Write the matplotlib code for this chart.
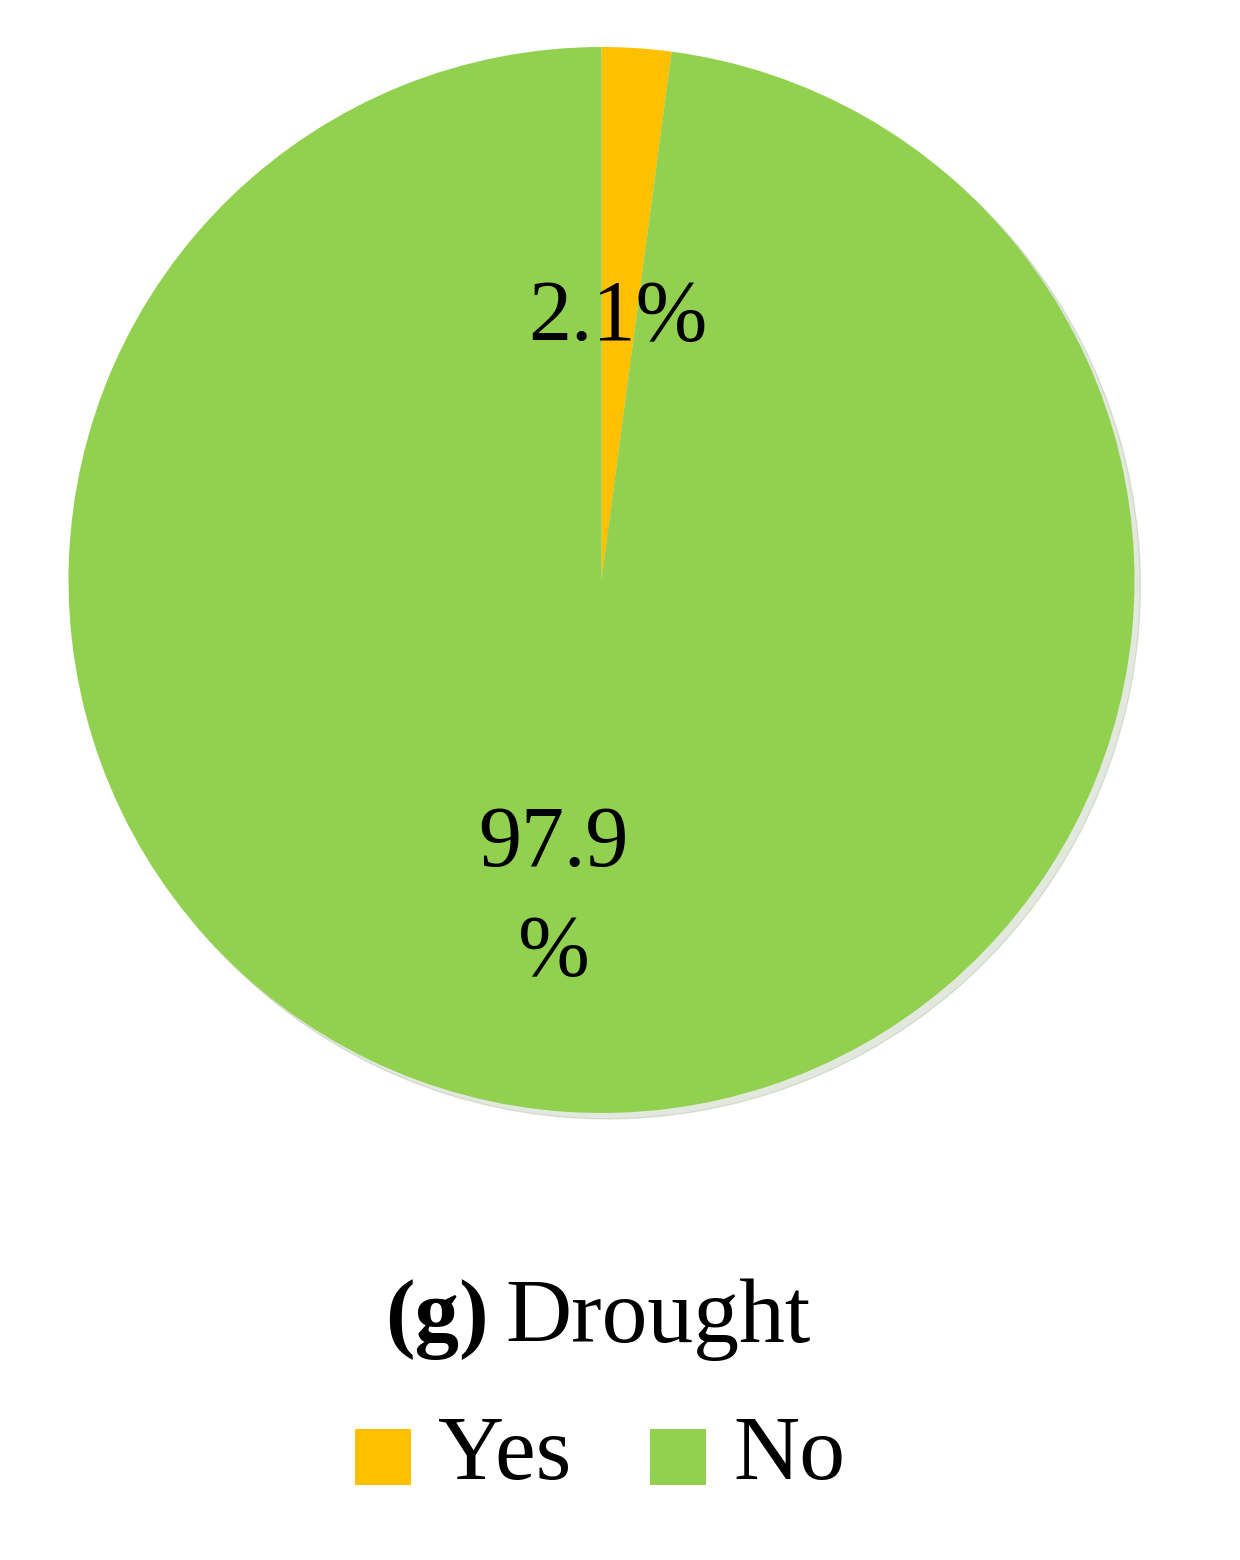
import matplotlib
matplotlib.use("Agg")
import matplotlib.pyplot as plt
from matplotlib.patches import Rectangle

categories = ["Yes", "No"]
values = [2.1, 97.9]
colors = ["#FFC000", "#92D050"]
title_bold = "(g)"
title_rest = "Drought"

plt.rcParams['font.family'] = ['Liberation Serif', 'DejaVu Serif']
W, H = 1240, 1560
fig = plt.figure(figsize=(W/100, H/100), dpi=100)
ax = fig.add_axes([68/W, 1-1113/H, 1067/W, 1066/H])
wedges, texts, autotexts = ax.pie(values, colors=colors, startangle=90, counterclock=False,
    autopct=lambda p: f"{p:.1f}%", radius=1,
    shadow={'ox': 0.008, 'oy': -0.008, 'shade': 0.5, 'alpha': 0.15},
    textprops=dict(fontsize=62, color='black'))
ax.set_xlim(-1, 1); ax.set_ylim(-1, 1); ax.set_aspect('equal')
autotexts[0].set_position((0.03, 0.49))
autotexts[1].set_text(f"{values[1]:.1f}\n%")
autotexts[1].set_position((-0.09, -0.6))
autotexts[1].set_linespacing(1.5)

fig.text(385/W, 1-1320/H, title_bold, fontsize=64, fontweight='bold', ha='left', va='center')
fig.text(505/W, 1-1320/H, title_rest, fontsize=66, ha='left', va='center')

lx = [355, 650]
for i, c in enumerate(categories):
    fig.patches.append(Rectangle((lx[i]/W, 1-1485/H), 56/W, 56/H, transform=fig.transFigure,
                                 facecolor=colors[i], edgecolor='none'))
    fig.text((lx[i]+83)/W, 1-1457/H, c, fontsize=66, ha='left', va='center')

fig.savefig("out.png", dpi=100)
